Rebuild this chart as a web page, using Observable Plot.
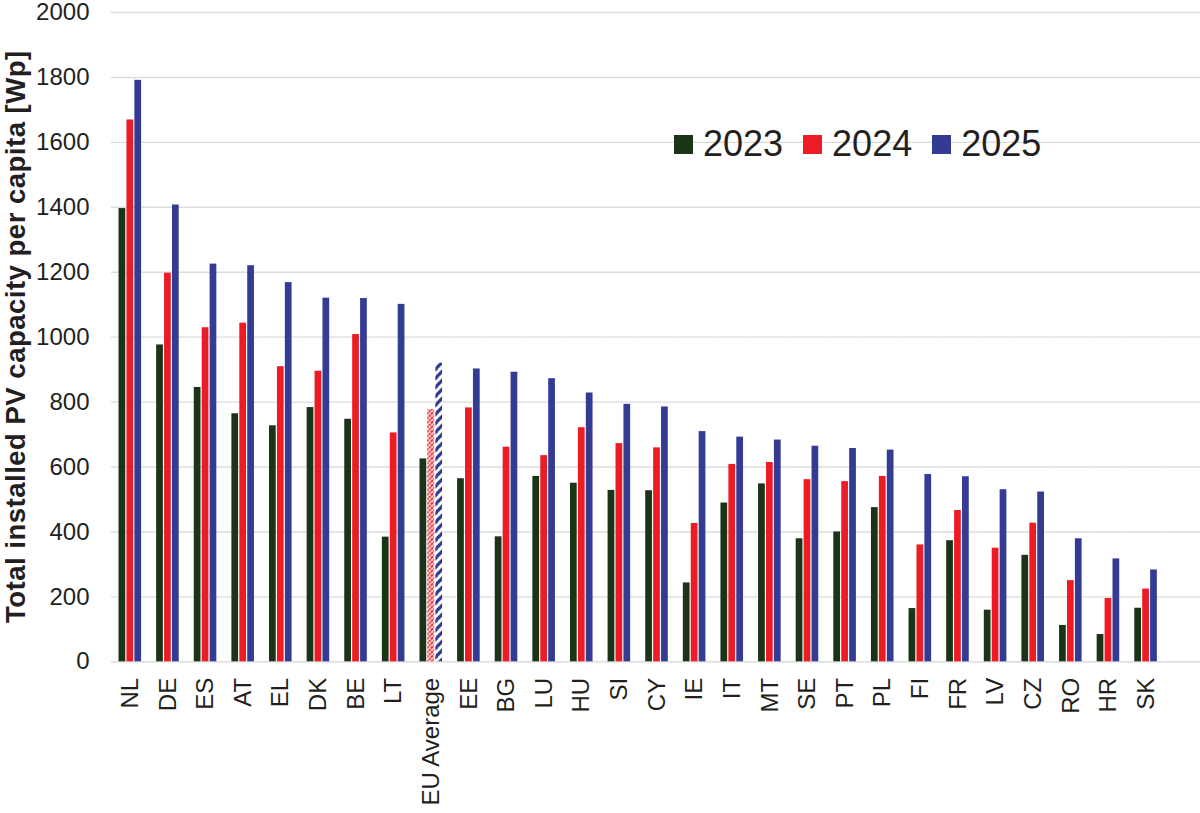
<!DOCTYPE html>
<html>
<head>
<meta charset="utf-8">
<script src="https://cdn.jsdelivr.net/npm/d3@7"></script>
<script src="https://cdn.jsdelivr.net/npm/@observablehq/plot@0.6"></script>
<style>
  html, body { margin: 0; padding: 0; background: white; }
  #wrap { position: relative; width: 1200px; height: 813px; overflow: hidden; }
  #legend { position: absolute; left: 674px; top: 126px; display: flex; gap: 20px;
            font-family: "Liberation Sans", Arial, sans-serif; font-size: 36px; line-height: 36px; color: #231f20; }
  #legend .item { display: flex; align-items: center; gap: 10px; }
  #legend .sw { width: 19px; height: 19px; display: inline-block; }
</style>
</head>
<body>
<div id="wrap"></div>
<script>
const countries = ["NL","DE","ES","AT","EL","DK","BE","LT","EU Average","EE","BG","LU","HU","SI","CY","IE","IT","MT","SE","PT","PL","FI","FR","LV","CZ","RO","HR","SK"];
const years = ["2023","2024","2025"];
const v2023 = [1396, 976, 845, 764, 727, 783, 747, 384, 625, 564, 385, 571, 550, 528, 527, 243, 489, 548, 379, 400, 475, 164, 373, 159, 328, 112, 84, 165];
const v2024 = [1669, 1197, 1029, 1043, 909, 895, 1008, 705, 777, 782, 661, 635, 721, 672, 659, 426, 608, 614, 561, 555, 571, 360, 466, 350, 427, 250, 195, 224];
const v2025 = [1791, 1407, 1225, 1220, 1168, 1120, 1119, 1101, 920, 902, 892, 872, 828, 793, 785, 709, 692, 683, 664, 657, 652, 577, 570, 530, 523, 379, 317, 283];
const yTicks = [0, 200, 400, 600, 800, 1000, 1200, 1400, 1600, 1800, 2000];
const colors = ["#1b3317", "#ed1c24", "#333b95"];
const averageName = "EU Average";
const yTitle = "Total installed PV capacity per capita [Wp]";

const series = [v2023, v2024, v2025];
const rows = [];
countries.forEach((c, i) => years.forEach((y, j) => rows.push({country: c, year: y, value: series[j][i]})));
const solid = rows.filter(d => !(d.country === averageName && d.year !== "2023"));
const avg2024 = rows.filter(d => d.country === averageName && d.year === "2024");
const avg2025 = rows.filter(d => d.country === averageName && d.year === "2025");

// facets: the countries plus one empty slot on the right (plot area padding)
const facetDomain = [...countries, ""];
const grid = facetDomain.flatMap(c => yTicks.map(t => ({c, t})));

const chart = Plot.plot({
  width: 1200,
  height: 813,
  marginLeft: 111,
  marginRight: -2,
  marginTop: 12,
  marginBottom: 151.7,
  style: {fontFamily: "Liberation Sans, Arial, sans-serif", fontSize: "24px", color: "#231f20", background: "white"},
  fx: {domain: facetDomain, padding: 0, round: false, axis: null, label: null},
  x: {domain: years, paddingInner: 0.15, paddingOuter: 0.95, round: false, axis: null},
  y: {domain: [0, 2000], label: null, axis: null},
  color: {domain: years, range: colors},
  marks: [
    Plot.ruleY(grid, {fx: "c", y: "t", stroke: "#dcdcdc", strokeWidth: 1.4}),
    Plot.barY(solid, {fx: "country", x: "year", y: "value", fill: "year"}),
    Plot.barY(avg2024, {fx: "country", x: "year", y: "value", fill: "url(#hatchRed)"}),
    Plot.barY(avg2025, {fx: "country", x: "year", y: "value", fill: "url(#hatchBlue)"}),
    Plot.axisY({ticks: yTicks, tickFormat: d => String(d), tickSize: 0, tickPadding: 22, fontSize: 24, label: null}),
    Plot.axisFx({anchor: "bottom", tickRotate: -90, tickSize: 0, tickPadding: 16, fontSize: 24, label: null})
  ]
});

const svg = d3.select(chart);
const defs = svg.insert("defs", ":first-child");
// red fine dotted hatch
const pr = defs.append("pattern").attr("id", "hatchRed").attr("patternUnits", "userSpaceOnUse")
  .attr("width", 4.5).attr("height", 4.5);
pr.append("rect").attr("width", 4.5).attr("height", 4.5).attr("fill", "white");
pr.append("path").attr("d", "M-1,1 L1,-1 M0,4.5 L4.5,0 M3.5,5.5 L5.5,3.5")
  .attr("stroke", colors[1]).attr("stroke-width", 2.1).attr("stroke-dasharray", "2.2,0.7");
// blue bold dashed hatch
const pb = defs.append("pattern").attr("id", "hatchBlue").attr("patternUnits", "userSpaceOnUse")
  .attr("width", 9).attr("height", 9);
pb.append("rect").attr("width", 9).attr("height", 9).attr("fill", "white");
pb.append("path").attr("d", "M-2,2 L2,-2 M1,7.5 L7.5,1 M7,11 L11,7")
  .attr("stroke", colors[2]).attr("stroke-width", 3.2).attr("stroke-linecap", "round");

// y-axis title
const yScale = chart.scale("y");
const yMid = (yScale.range[0] + yScale.range[1]) / 2;
svg.append("text")
  .attr("transform", `translate(25,${yMid}) rotate(-90)`)
  .attr("text-anchor", "middle")
  .attr("font-family", "Liberation Sans, Arial, sans-serif")
  .attr("font-weight", "bold")
  .attr("font-size", 27.5)
  .attr("letter-spacing", 0.5)
  .attr("fill", "#231f20")
  .text(yTitle);

const wrap = document.getElementById("wrap");
wrap.appendChild(chart);

// legend
const legend = document.createElement("div");
legend.id = "legend";
years.forEach((y, i) => {
  const item = document.createElement("div");
  item.className = "item";
  const sw = document.createElement("span");
  sw.className = "sw";
  sw.style.background = colors[i];
  const t = document.createElement("span");
  t.textContent = y;
  item.appendChild(sw);
  item.appendChild(t);
  legend.appendChild(item);
});
wrap.appendChild(legend);
</script>
</body>
</html>
